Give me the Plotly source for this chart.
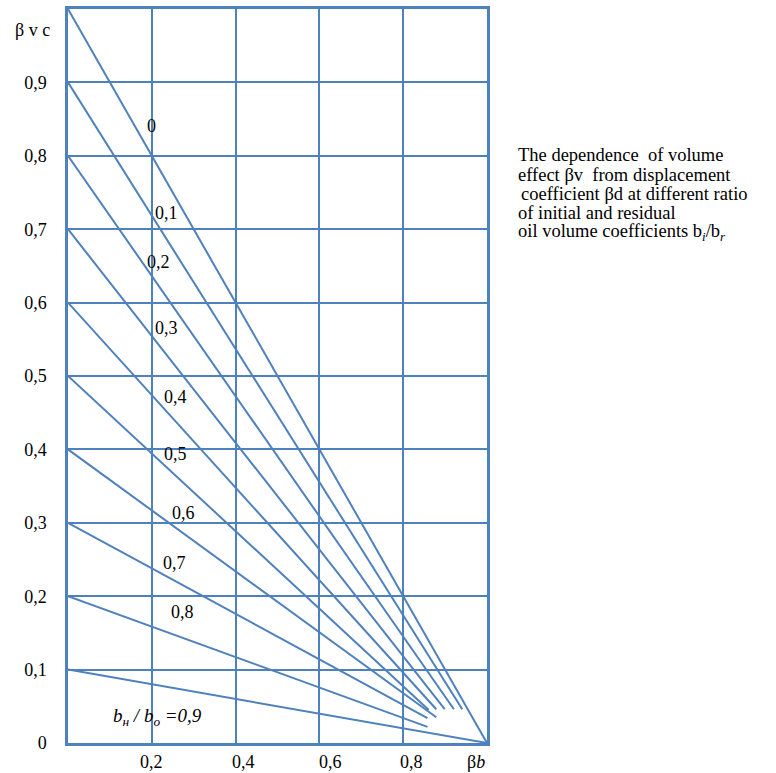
import plotly.graph_objects as go

# Ratio of initial to residual oil volume coefficients, one line per ratio
ratios = [0.0, 0.1, 0.2, 0.3, 0.4, 0.5, 0.6, 0.7, 0.8, 0.9]
# Volume effect at zero displacement coefficient (left end of each line)
start_bv = [1.0, 0.9, 0.8, 0.7, 0.6, 0.5, 0.4, 0.3, 0.2, 0.1]
# Right end of each line (displacement coefficient, volume effect)
end_bd = [1.0, 0.941, 0.921, 0.899, 0.879, 0.861, 0.879, 0.858, 0.858, 1.0]
end_bv = [0.0, 0.046, 0.046, 0.046, 0.046, 0.045, 0.035, 0.034, 0.022, 0.0]

line_labels = ["0", "0,1", "0,2", "0,3", "0,4", "0,5", "0,6", "0,7", "0,8"]
label_x = [0.199, 0.235, 0.2165, 0.235, 0.257, 0.257, 0.276, 0.255, 0.274]
label_y = [0.840, 0.7225, 0.655, 0.565, 0.472, 0.394, 0.313, 0.245, 0.179]

y_tickvals = [0, 0.1, 0.2, 0.3, 0.4, 0.5, 0.6, 0.7, 0.8, 0.9, 1.0]
y_ticktext = ["0", "0,1", "0,2", "0,3", "0,4", "0,5", "0,6", "0,7", "0,8", "0,9", ""]
x_tickvals = [0.2, 0.4, 0.6, 0.8, 1.0]
x_ticktext = ["0,2", "0,4", "0,6", "0,8", "β<i>b</i>"]
x_label_shift = [0, 8, 11, 8, -11]

caption_lines = [
    "The dependence  of volume",
    "effect βv  from displacement",
    "coefficient βd at different ratio",
    "of initial and residual",
    "oil volume coefficients b<sub><i>i</i></sub>/b<sub><i>r</i></sub>",
]

BLUE = "#4F81BD"
SERIF = "Liberation Serif, Times New Roman, serif"

fig = go.Figure()
for r, y0, x1, y1 in zip(ratios, start_bv, end_bd, end_bv):
    fig.add_trace(go.Scatter(
        x=[0.0, x1], y=[y0, y1], mode="lines",
        line=dict(color=BLUE, width=2), name=str(r),
        hoverinfo="skip", showlegend=False,
    ))

# ratio labels along the lines
for txt, lx, ly in zip(line_labels, label_x, label_y):
    fig.add_annotation(x=lx, y=ly, text=txt, showarrow=False,
                       font=dict(family=SERIF, size=18, color="black"))

fig.add_annotation(x=0.214, y=0.036,
                   text="<i>b<sub>н</sub> / b<sub>о</sub> =0,9</i>",
                   showarrow=False,
                   font=dict(family=SERIF, size=19, color="black"))

# y-axis name above the tick column
fig.add_annotation(xref="paper", yref="paper", x=-0.037, y=0.971,
                   xanchor="right", yanchor="middle", showarrow=False,
                   text="β v c", font=dict(family=SERIF, size=18, color="black"))

# x-axis tick labels, set slightly off their grid lines
for tv, tt, sh in zip(x_tickvals, x_ticktext, x_label_shift):
    fig.add_annotation(x=tv, xref="x", yref="paper", y=-0.0405,
                       xanchor="center", yanchor="bottom", xshift=sh,
                       showarrow=False, text=tt, borderpad=0,
                       font=dict(family=SERIF, size=18, color="black"))

# caption to the right of the chart
caption_x = [1.0682, 1.0682, 1.0754, 1.0682, 1.0682]
caption_y = [0.8010, 0.7745, 0.7486, 0.7221, 0.6950]
for txt, cx, cy in zip(caption_lines, caption_x, caption_y):
    fig.add_annotation(xref="paper", yref="paper", x=cx, y=cy,
                       xanchor="left", yanchor="middle", align="left",
                       showarrow=False, text=txt,
                       font=dict(family=SERIF, size=18.5, color="black"))

fig.update_xaxes(
    range=[0, 1], tickvals=x_tickvals, showticklabels=False,
    showgrid=True, gridcolor=BLUE, gridwidth=1.5,
    showline=True, linecolor=BLUE, linewidth=2.5, mirror=True,
    zeroline=False, ticks="", automargin=False,
)
fig.update_yaxes(
    range=[0, 1], tickvals=y_tickvals, ticktext=y_ticktext,
    showgrid=True, gridcolor=BLUE, gridwidth=1.5,
    showline=True, linecolor=BLUE, linewidth=2.5, mirror=True,
    zeroline=False, ticks="", ticklabelstandoff=15,
    automargin=False,
    tickfont=dict(family=SERIF, size=18, color="black"),
)

fig.update_layout(
    width=776, height=773,
    margin=dict(l=68, r=289, t=9, b=30, pad=0),
    plot_bgcolor="white", paper_bgcolor="white",
    showlegend=False,
)

fig.write_html("out.html")
